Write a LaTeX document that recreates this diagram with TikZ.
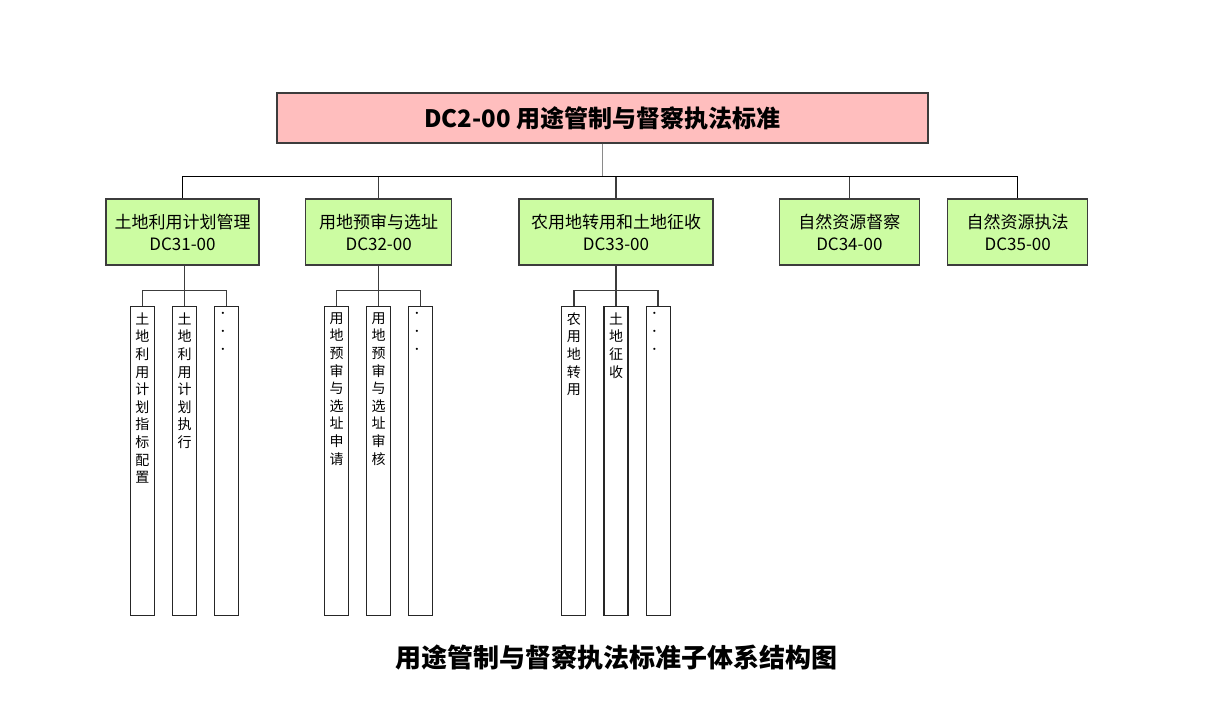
\documentclass[tikz,border=0pt]{standalone}
\usepackage{fontspec}
\setmainfont{Noto Sans CJK SC}
\usepackage{tikz}
\usetikzlibrary{positioning}
\definecolor{StdPink}{HTML}{FFBEBE}
\definecolor{StdGreen}{HTML}{CCFCA2}
\definecolor{StdLine}{HTML}{3C3C3C}
\definecolor{StdGrey}{HTML}{8A8A8A}

\begin{document}
\begin{tikzpicture}[x=0.75pt,y=0.75pt,
  rootbox/.style={draw=StdLine,fill=StdPink,line width=1pt,minimum width=488.25pt,minimum height=37.5pt,inner sep=0pt,font=\fontsize{18}{20}\selectfont\bfseries},
  groupbox/.style={draw=StdLine,fill=StdGreen,line width=1pt,minimum height=49.5pt,inner sep=0pt,align=center,font=\fontsize{12.75}{16.5}\selectfont},
  colbox/.style={draw=black!85,line width=0.8pt,minimum width=18pt,minimum height=231.75pt,inner sep=0pt},
  coltext/.style={anchor=north,inner sep=0pt,yshift=-5pt,align=center,font=\fontsize{10.5}{13.2}\selectfont},
  link/.style={draw=StdLine,line width=1pt},
]
\useasboundingbox (0,0) rectangle (1227,-722);

\node[rootbox] (dc2) at (602.5,-118) {DC2-00 用途管制与督察执法标准};
\coordinate (bar) at (0,-176.5);

\node[groupbox,minimum width=114.75pt] (dc31) at (182.5,-232) {土地利用计划管理\\DC31-00};
\node[groupbox,minimum width=109.5pt,right=34pt of dc31] (dc32) {用地预审与选址\\DC32-00};
\node[groupbox,minimum width=145.5pt,right=49.5pt of dc32] (dc33) {农用地转用和土地征收\\DC33-00};
\node[groupbox,minimum width=105pt,right=48.75pt of dc33] (dc34) {自然资源督察\\DC34-00};
\node[groupbox,minimum width=105pt,right=20.25pt of dc34] (dc35) {自然资源执法\\DC35-00};

% sub-standards under DC31-00
\node[colbox,below=30pt of dc31,xshift=1.5pt,label={[coltext]north:土\\地\\利\\用\\计\\划\\执\\行}] (dc31-2) {};
\node[colbox,left=12.75pt of dc31-2,label={[coltext]north:土\\地\\利\\用\\计\\划\\指\\标\\配\\置}] (dc31-1) {};
\node[colbox,right=12.75pt of dc31-2,label={[coltext]north:．\\．\\．}] (dc31-3) {};

% sub-standards under DC32-00
\node[colbox,below=30pt of dc32,label={[coltext]north:用\\地\\预\\审\\与\\选\\址\\审\\核}] (dc32-2) {};
\node[colbox,left=12.75pt of dc32-2,label={[coltext]north:用\\地\\预\\审\\与\\选\\址\\申\\请}] (dc32-1) {};
\node[colbox,right=12.75pt of dc32-2,label={[coltext]north:．\\．\\．}] (dc32-3) {};

% sub-standards under DC33-00
\node[colbox,below=30pt of dc33,label={[coltext]north:土\\地\\征\\收}] (dc33-2) {};
\node[colbox,left=12.75pt of dc33-2,label={[coltext]north:农\\用\\地\\转\\用}] (dc33-1) {};
\node[colbox,right=12.75pt of dc33-2,label={[coltext]north:．\\．\\．}] (dc33-3) {};

\node[font=\fontsize{19.5}{22}\selectfont\bfseries] (caption) at (616.5,-658) {用途管制与督察执法标准子体系结构图};

\draw[link,draw=StdGrey] (dc2.south) -- (dc2.south |- bar);
\draw[link,draw=black] (dc31.north) -- (dc31.north |- bar) -| (dc35.north);
\foreach \n in {dc32,dc33,dc34}
  \draw[link] (\n.north) -- (\n.north |- bar);
\foreach \n in {dc31,dc32,dc33} {
  \draw[link] (\n.south) -- (\n.south -| \n-2.north) -- (\n-2.north);
  \draw[link] (\n-1.north) -- ++(0,15) -| (\n-3.north);
}
\end{tikzpicture}
\end{document}
